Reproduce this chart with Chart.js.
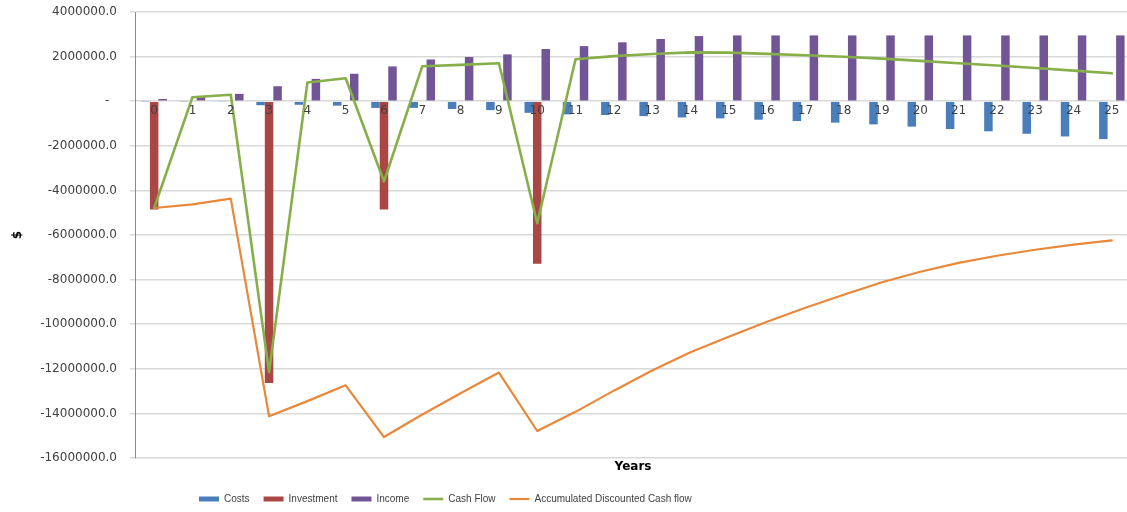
<!DOCTYPE html>
<html>
<head>
<meta charset="utf-8">
<title>Project cash flow</title>
<script src="https://cdn.jsdelivr.net/npm/chart.js@4.4.1/dist/chart.umd.min.js"></script>
<style>
  html, body { margin: 0; padding: 0; background: #ffffff; overflow: hidden; }
  canvas { display: block; }
</style>
</head>
<body>
<canvas id="cashChart" width="1131" height="512"></canvas>
<script>
// Project years
const years = ['0','1','2','3','4','5','6','7','8','9','10','11','12','13','14','15','16','17','18','19','20','21','22','23','24','25'];

// Yearly amounts in $
const costs = [-20000, -20000, -25000, -180000, -160000, -200000, -300000, -300000, -350000, -400000,
  -520000, -590000, -620000, -670000, -730000, -770000, -830000, -890000, -960000, -1040000,
  -1140000, -1250000, -1350000, -1460000, -1580000, -1700000];

const investment = [-4860000, 0, 0, -12640000, 0, 0, -4860000, 0, 0, 0,
  -7290000, 0, 0, 0, 0, 0, 0, 0, 0, 0,
  0, 0, 0, 0, 0, 0];

const income = [100000, 200000, 330000, 670000, 1000000, 1230000, 1560000, 1870000, 1980000, 2100000,
  2340000, 2470000, 2640000, 2790000, 2920000, 2950000, 2950000, 2950000, 2950000, 2950000,
  2950000, 2950000, 2950000, 2950000, 2950000, 2950000];

const cashFlow = [-4790000, 180000, 290000, -12150000, 840000, 1030000, -3600000, 1570000, 1630000, 1700000,
  -5470000, 1880000, 2020000, 2120000, 2190000, 2180000, 2120000, 2060000, 1990000, 1910000,
  1810000, 1700000, 1600000, 1490000, 1370000, 1250000];

const accumulatedDcf = [-4790000, -4630000, -4370000, -14130000, -13450000, -12740000, -15060000, -14050000, -13100000, -12170000,
  -14790000, -13930000, -12980000, -12080000, -11260000, -10560000, -9890000, -9260000, -8680000, -8120000,
  -7650000, -7250000, -6930000, -6660000, -6430000, -6240000];

// Value axis range
const yMin = -16000000;
const yMax = 4000000;
const yStep = 2000000;

const COLORS = {
  costs: '#4A7EBB',
  investment: '#AA4643',
  income: '#715595',
  cashFlow: '#86AF49',
  accumulated: '#E8883A',
  grid: '#D9D9D9',
  axis: '#8A8A8A',
  text: '#404040'
};

// Puts the legend row at a fixed spot under the "Years" title
const legendPlacement = {
  id: 'legendPlacement',
  afterLayout(chart) {
    const lg = chart.legend;
    if (!lg) return;
    const pad = lg.options.labels.padding;
    const w = lg.right - lg.left;
    const h = lg.bottom - lg.top;
    lg.left = 199 - pad;
    lg.right = lg.left + w + 200;
    lg.top = 494 - pad;
    lg.bottom = lg.top + h;
  }
};

const lineDataset = (label, data, color, width) => ({
  type: 'line',
  label,
  data,
  borderColor: color,
  backgroundColor: color,
  borderWidth: width,
  borderJoinStyle: 'round',
  borderCapStyle: 'round',
  pointRadius: 0,
  pointHoverRadius: 0,
  tension: 0,
  fill: false,
  order: 0
});

const barDataset = (label, data, color) => ({
  type: 'bar',
  label,
  data,
  backgroundColor: color,
  borderWidth: 0,
  order: 1
});

new Chart(document.getElementById('cashChart'), {
  type: 'bar',
  data: {
    labels: years,
    datasets: [
      barDataset('Costs', costs, COLORS.costs),
      barDataset('Investment', investment, COLORS.investment),
      barDataset('Income', income, COLORS.income),
      lineDataset('Cash Flow', cashFlow, COLORS.cashFlow, 2.6),
      lineDataset('Accumulated Discounted Cash flow', accumulatedDcf, COLORS.accumulated, 2.2)
    ]
  },
  plugins: [legendPlacement],
  options: {
    responsive: false,
    animation: false,
    events: [],
    layout: { padding: { top: 12, left: 0, right: 0, bottom: 8 } },
    datasets: {
      bar: { categoryPercentage: 0.666, barPercentage: 1.0 }
    },
    scales: {
      x: {
        type: 'category',
        position: { y: 0 },
        offset: true,
        grid: { display: false, drawTicks: false },
        border: { display: false },
        ticks: {
          z: 1,
          autoSkip: false,
          maxRotation: 0,
          padding: 2,
          color: COLORS.text,
          font: { family: 'DejaVu Sans', size: 12 }
        }
      },
      xTitle: {
        type: 'category',
        position: 'bottom',
        offset: true,
        grid: { display: false, drawTicks: false },
        border: { display: false },
        ticks: { display: false },
        title: {
          display: true,
          text: 'Years',
          color: '#000000',
          padding: { top: 0, bottom: 0 },
          font: { family: 'DejaVu Sans', size: 12, weight: 'bold' }
        },
        afterFit(scale) { scale.height = 16; }
      },
      y: {
        min: yMin,
        max: yMax,
        grid: { color: COLORS.grid, lineWidth: 1.5, tickLength: 5, drawTicks: true },
        border: { display: true, color: COLORS.axis, width: 1 },
        ticks: {
          stepSize: yStep,
          padding: 13,
          color: COLORS.text,
          font: { family: 'DejaVu Sans', size: 12 },
          callback: (v) => (v === 0 ? '-  ' : Number(v).toFixed(1))
        },
        title: {
          display: true,
          text: '$',
          color: '#000000',
          padding: { top: 11, bottom: 0 },
          font: { family: 'DejaVu Sans', size: 12, weight: 'bold' }
        },
        afterFit(scale) {
          scale.width = 135;
          scale.paddingTop = 0;
          scale.paddingBottom = 0;
        }
      }
    },
    plugins: {
      tooltip: { enabled: false },
      legend: {
        display: true,
        position: 'bottom',
        align: 'start',
        maxHeight: 30,
        labels: {
          usePointStyle: true,
          pointStyleWidth: 20,
          boxHeight: 5,
          padding: 14,
          color: COLORS.text,
          font: { family: 'Liberation Sans', size: 10 },
          sort: (a, b) => a.datasetIndex - b.datasetIndex,
          generateLabels(chart) {
            const items = Chart.defaults.plugins.legend.labels.generateLabels(chart);
            items.forEach((it) => {
              const ds = chart.data.datasets[it.datasetIndex];
              if (ds.type === 'line') {
                it.pointStyle = 'line';
                it.strokeStyle = ds.borderColor;
                it.lineWidth = ds.borderWidth;
              } else {
                it.pointStyle = 'rect';
                it.fillStyle = ds.backgroundColor;
                it.lineWidth = 0;
              }
            });
            return items;
          }
        }
      }
    }
  }
});
</script>
</body>
</html>
